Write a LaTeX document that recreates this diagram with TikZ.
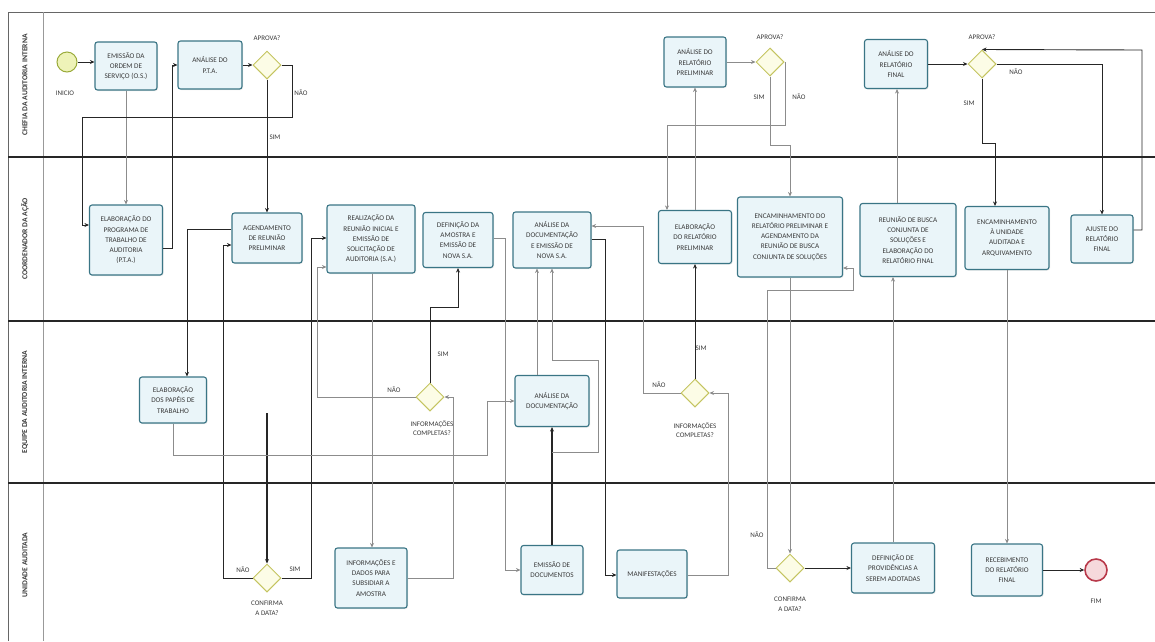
\documentclass[tikz,border=0pt]{standalone}
\usepackage{fontspec}
\setmainfont{Carlito}
\usetikzlibrary{shapes.geometric,arrows.meta,shadows}
\definecolor{taskborder}{HTML}{3A7585}
\definecolor{taskfill}{HTML}{EAF5F9}
\definecolor{gateborder}{HTML}{C4C460}
\definecolor{gatefill}{HTML}{FCFCE6}
\definecolor{startfill}{HTML}{EEF3B8}
\definecolor{startborder}{HTML}{9AAB3B}
\definecolor{endfill}{HTML}{F6D9DC}
\definecolor{endborder}{HTML}{B8394A}
\definecolor{flowc}{HTML}{262626}
\definecolor{flowlc}{HTML}{8C8C8C}
\definecolor{textc}{HTML}{3A3A3A}
\newcommand\tasksize{\fontsize{7.2}{10.2}\selectfont}
\newcommand\lblsize{\fontsize{7}{9.5}\selectfont}
\newcommand\lanesize{\fontsize{7.6}{9}\selectfont\bfseries}
\tikzset{
  task/.style={draw=taskborder, line width=1.1pt, rounded corners=2.5pt, fill=taskfill,
    align=center, font=\tasksize, text=textc, inner sep=1pt,
    drop shadow={opacity=0.18, shadow xshift=1pt, shadow yshift=-1pt}},
  gate/.style={diamond, draw=gateborder, line width=1pt, fill=gatefill,
    minimum width=28pt, minimum height=28pt, inner sep=0pt},
  flow/.style={draw=flowc, line width=0.9pt, -{Stealth[length=4.5pt,width=4pt]}},
  flowl/.style={draw=flowlc, line width=0.6pt, -{Stealth[length=4.5pt,width=4pt]}},
  lbl/.style={font=\lblsize, text=textc, align=center, inner sep=0pt},
  lanelbl/.style={font=\lanesize, text=textc, rotate=90, inner sep=0pt},
  lanesep/.style={draw=black!85, line width=1.6pt},
}
\begin{document}
\begin{tikzpicture}[x=1pt,y=-1pt]
\useasboundingbox (0,0) rectangle (1155,641);
% lanes
\draw[black!60, line width=0.8pt] (8,641) -- (8,12) -- (1155,12);
\draw[black!40, line width=0.6pt] (43,12) -- (43,641);
\draw[lanesep] (8,157) -- (1155,157);
\draw[lanesep] (8,321) -- (1155,321);
\draw[lanesep] (8,483) -- (1155,483);
\node[lanelbl] (lane1) at (25,85) {CHEFIA DA AUDITORIA INTERNA};
\node[lanelbl] (lane2) at (25,239) {COORDENADOR DA AÇÃO};
\node[lanelbl] (lane3) at (25,402) {EQUIPE DA AUDITORIA INTERNA};
\node[lanelbl] (lane4) at (25,565) {UNIDADE AUDITADA};

% events
\node[circle, draw=startborder, fill=startfill, line width=1pt, minimum size=20pt, inner sep=0pt] (ini) at (67,62) {};
\node[lbl] (linicio) at (65,93) {INICIO};
\node[circle, draw=endborder, fill=endfill, line width=1.6pt, minimum size=22pt, inner sep=0pt] (fim) at (1096,570) {};
\node[lbl] (lfim) at (1096,601) {FIM};

% lane 1 tasks
\node[task, minimum width=62pt, minimum height=48pt] (os) at (126,66) {EMISSÃO DA\\ORDEM DE\\SERVIÇO (O.S.)};
\node[task, minimum width=64pt, minimum height=48pt] (pta) at (210,65) {ANÁLISE DO\\P.T.A.};
\node[gate] (d1) at (267,65) {};
\node[lbl] (la1) at (267,38) {APROVA?};
\node[lbl] (ln1) at (301,93) {NÃO};
\node[lbl] (ls1) at (275,137) {SIM};

\node[task, minimum width=62pt, minimum height=50pt] (anrelp) at (695,62) {ANÁLISE DO\\RELATÓRIO\\PRELIMINAR};
\node[gate] (d2) at (770,62) {};
\node[lbl] (la2) at (770,37) {APROVA?};
\node[lbl] (ls2) at (759,97) {SIM};
\node[lbl] (ln2) at (799,97) {NÃO};

\node[task, minimum width=63pt, minimum height=49pt] (anrelf) at (896,64) {ANÁLISE DO\\RELATÓRIO\\FINAL};
\node[gate] (d3) at (982,64) {};
\node[lbl] (la3) at (982,37) {APROVA?};
\node[lbl] (ln3) at (1016,72) {NÃO};
\node[lbl] (ls3) at (969,103) {SIM};

% lane 2 tasks
\node[task, minimum width=73pt, minimum height=70pt] (prog) at (126,240) {ELABORAÇÃO DO\\PROGRAMA DE\\TRABALHO DE\\AUDITORIA\\(P.T.A.)};
\node[task, minimum width=70pt, minimum height=50pt] (agend) at (267,238) {AGENDAMENTO\\DE REUNIÃO\\PRELIMINAR};
\node[task, minimum width=88pt, minimum height=68pt] (real) at (371,239) {REALIZAÇÃO DA\\REUNIÃO INICIAL E\\EMISSÃO DE\\SOLICITAÇÃO DE\\AUDITORIA (S.A.)};
\node[task, minimum width=70pt, minimum height=55pt] (defam) at (458,240) {DEFINIÇÃO DA\\AMOSTRA E\\EMISSÃO DE\\NOVA S.A.};
\node[task, minimum width=78pt, minimum height=56pt] (analdoc) at (552,240) {ANÁLISE DA\\DOCUMENTAÇÃO\\E EMISSÃO DE\\NOVA S.A.};
\node[task, minimum width=73pt, minimum height=53pt] (elabrel) at (695,237) {ELABORAÇÃO\\DO RELATÓRIO\\PRELIMINAR};
\node[task, minimum width=105pt, minimum height=80pt] (encrel) at (790,237) {ENCAMINHAMENTO DO\\RELATÓRIO PRELIMINAR E\\AGENDAMENTO DA\\REUNIÃO DE BUSCA\\CONJUNTA DE SOLUÇÕES};
\node[task, minimum width=96pt, minimum height=73pt] (reuniao) at (908,240) {REUNIÃO DE BUSCA\\CONJUNTA DE\\SOLUÇÕES E\\ELABORAÇÃO DO\\RELATÓRIO FINAL};
\node[task, minimum width=84pt, minimum height=63pt] (encun) at (1007,238) {ENCAMINHAMENTO\\À UNIDADE\\AUDITADA E\\ARQUIVAMENTO};
\node[task, minimum width=62pt, minimum height=48pt] (ajuste) at (1102,239) {AJUSTE DO\\RELATÓRIO\\FINAL};

% lane 3
\node[task, minimum width=67pt, minimum height=46pt] (papeis) at (173,400) {ELABORAÇÃO\\DOS PAPÉIS DE\\TRABALHO};
\node[gate] (di1) at (430,397) {};
\node[lbl] (lc1) at (432,428) {INFORMAÇÕES\\COMPLETAS?};
\node[lbl] (lsi1) at (443,354) {SIM};
\node[lbl] (lni1) at (394,390) {NÃO};
\node[task, minimum width=74pt, minimum height=51pt] (andoc) at (552,401) {ANÁLISE DA\\DOCUMENTAÇÃO};
\node[gate] (di2) at (695,393) {};
\node[lbl] (lc2) at (695,430) {INFORMAÇÕES\\COMPLETAS?};
\node[lbl] (lsi2) at (701,348) {SIM};
\node[lbl] (lni2) at (659,385) {NÃO};

% lane 4
\node[gate] (c1) at (267,578) {};
\node[lbl] (lcf1) at (267,608) {CONFIRMA\\A DATA?};
\node[lbl] (lnc1) at (243,570) {NÃO};
\node[lbl] (lsc1) at (295,569) {SIM};
\node[task, minimum width=72pt, minimum height=60pt] (infod) at (371,578) {INFORMAÇÕES E\\DADOS PARA\\SUBSIDIAR A\\AMOSTRA};
\node[task, minimum width=62pt, minimum height=49pt] (emdoc) at (552,570) {EMISSÃO DE\\DOCUMENTOS};
\node[task, minimum width=70pt, minimum height=48pt] (manif) at (652,574) {MANIFESTAÇÕES};
\node[gate] (c2) at (790,568) {};
\node[lbl] (lcf2) at (790,604) {CONFIRMA\\A DATA?};
\node[lbl] (lnc2) at (757,535) {NÃO};
\node[task, minimum width=83pt, minimum height=50pt] (defprov) at (893,568) {DEFINIÇÃO DE\\PROVIDÊNCIAS A\\SEREM ADOTADAS};
\node[task, minimum width=71pt, minimum height=52pt] (receb) at (1007,570) {RECEBIMENTO\\DO RELATÓRIO\\FINAL};

\coordinate (s9) at (267,413);
\coordinate (s18) at (552,452);

% connectors
\draw[flow] (ini) -- (os.west |- ini);
\draw[flowl] (os.south) -- (prog.north);
\draw[flow] (prog.east |- 0,248) -- (172,248) -- (172,65) -- (pta.west);
\draw[flow] (pta.east) -- (d1.west);
\draw[flow] (d1.east) -- (292,65) -- (292,117) -- (82,117) -- (82,225) -- (prog.west |- 0,225);
\draw[flow] (d1.south) -- (agend.north);
\draw[flow] (agend.west |- 0,229) -- (187,229) -- (papeis.north -| 187,0);
\draw[flow] (c1.west) -- (223,578) -- (223,245) -- (agend.west |- 0,245);
\draw[flow, line width=1.2pt] (s9) -- (c1.north);
\draw[flow] (c1.east) -- (311,578) -- (311,238) -- (real.west |- 0,238);
\draw[flowl] (di1.west) -- (317,397) -- (317,267) -- (real.west |- 0,267);
\draw[flowl] (real.south -| 372,0) -- (infod.north -| 372,0);
\draw[flowl] (infod.east) -- (453,578) -- (453,397) -- (di1.east);
\draw[flow] (di1.north) -- (430,307) -- (458,307) -- (defam.south);
\draw[flowl] (defam.east |- 0,238) -- (505,238) -- (505,570) -- (emdoc.west);
\draw[flowl] (papeis.south) -- (173,455) -- (487,455) -- (487,401) -- (andoc.west);
\draw[flow, line width=1.2pt] (emdoc.north) -- (andoc.south);
\draw[flowl] (s18) -- (598,452) -- (598,360) -- (552,360) -- (analdoc.south);
\draw[flowl] (andoc.north -| 537,0) -- (analdoc.south -| 537,0);
\draw[flow] (analdoc.east |- 0,239) -- (605,239) -- (605,575) -- (manif.west |- 0,575);
\draw[flowl] (manif.east |- 0,575) -- (728,575) -- (728,393) -- (di2.east);
\draw[flow] (di2.north) -- (elabrel.south);
\draw[flowl] (di2.west) -- (643,393) -- (643,226) -- (analdoc.east |- 0,226);
\draw[flowl] (elabrel.north) -- (anrelp.south);
\draw[flowl] (anrelp.east) -- (d2.west);
\draw[flowl] (d2.east) -- (785,62) -- (785,125) -- (667,125) -- (elabrel.north -| 667,0);
\draw[flowl] (d2.south) -- (770,145) -- (790,145) -- (encrel.north);
\draw[flowl] (c2.west) -- (767,568) -- (767,290) -- (853,290) -- (853,268) -- (encrel.east |- 0,268);
\draw[flowl] (encrel.south) -- (c2.north);
\draw[flow] (c2.east) -- (defprov.west);
\draw[flowl] (defprov.north) -- (reuniao.south -| 893,0);
\draw[flowl] (reuniao.north -| 897,0) -- (anrelf.south -| 897,0);
\draw[flow] (anrelf.east) -- (d3.west);
\draw[flow] (d3.east) -- (1102,64) -- (ajuste.north);
\draw[flow] (ajuste.east |- 0,230) -- (1142,230) -- (1142,50) -- (d3.north);
\draw[flow] (d3.south) -- (982,143) -- (995,143) -- (encun.north -| 995,0);
\draw[flowl] (encun.south) -- (receb.north);
\draw[flow] (receb.east) -- (fim.west);
\end{tikzpicture}
\end{document}
